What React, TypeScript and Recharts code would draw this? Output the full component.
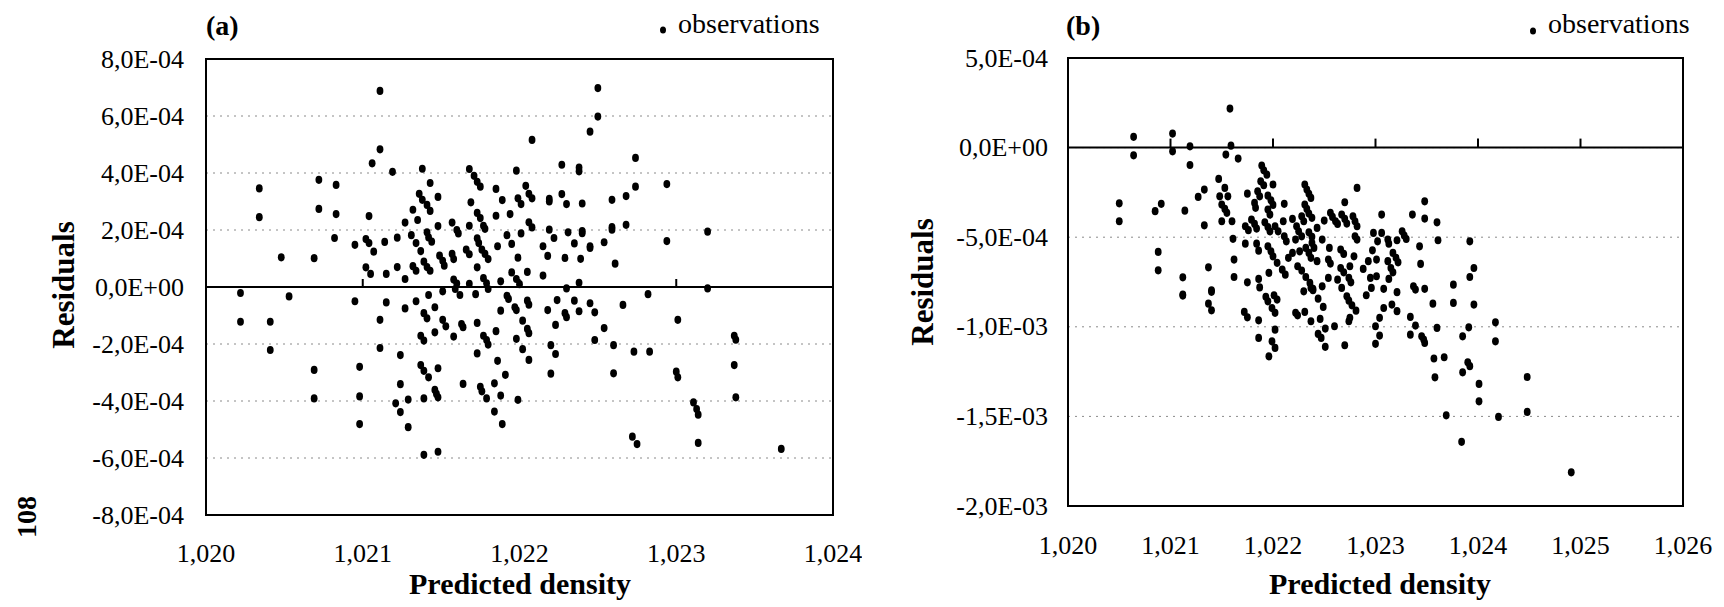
import { useMemo } from 'react';
import {
  CartesianGrid,
  ReferenceArea,
  ReferenceLine,
  Scatter,
  ScatterChart,
  XAxis,
  YAxis,
} from 'recharts';

const SERIF = "'Liberation Serif', 'Times New Roman', serif";
const CHART_W = 862;
const CHART_H = 607;
const X_AXIS_H = 50;

// panel (a): [predicted density, residual x 1E-4]
const obsA: [number, number][] = [
  [1.02111, 6.88], [1.02034, 3.46], [1.02034, 2.45], [1.02048, 1.04], [1.02069, 1.01], [1.02072, 3.76],
  [1.02072, 2.74], [1.02083, 3.58], [1.02083, 2.56], [1.02082, 1.72], [1.02095, 1.48], [1.02104, 2.49],
  [1.02106, 4.34], [1.02111, 4.83], [1.02119, 4.04], [1.02102, 1.68], [1.02104, 1.54], [1.02107, 1.24],
  [1.02102, 0.69], [1.02105, 0.46], [1.02115, 0.46], [1.02114, 1.58], [1.02122, 1.73], [1.02122, 0.7],
  [1.02127, 2.26], [1.02127, 0.28], [1.02131, 1.82], [1.02132, 2.71], [1.02135, 2.35], [1.02134, 1.54],
  [1.02137, 1.26], [1.02132, 0.73], [1.02134, 0.57], [1.02138, 4.15], [1.02136, 3.27], [1.02138, 3.06],
  [1.02141, 2.88], [1.02143, 2.67], [1.02143, 3.65], [1.02148, 3.16], [1.02141, 1.92], [1.02142, 1.74],
  [1.02144, 1.59], [1.02148, 2.14], [1.02139, 0.89], [1.02141, 0.7], [1.02143, 0.57], [1.02149, 1.1],
  [1.02151, 0.92], [1.02152, 0.75], [1.02157, 2.26], [1.0216, 2.0], [1.02161, 1.88], [1.02157, 1.16],
  [1.02158, 0.98], [1.02158, 0.26], [1.0216, 0.12], [1.02168, 4.14], [1.02171, 3.9], [1.02173, 3.69],
  [1.02175, 3.52], [1.02169, 2.97], [1.02173, 2.6], [1.02175, 2.42], [1.02168, 2.15], [1.02166, 1.31],
  [1.02168, 1.15], [1.02173, 1.71], [1.02174, 1.54], [1.02177, 2.15], [1.02178, 2.04], [1.02176, 1.31],
  [1.02178, 1.16], [1.0218, 0.98], [1.02173, 0.69], [1.02168, 0.11], [1.02177, 0.31], [1.02179, 0.13],
  [1.02185, 3.44], [1.02189, 3.05], [1.02185, 2.5], [1.02194, 2.56], [1.02192, 1.82], [1.02186, 1.43],
  [1.02195, 1.51], [1.02199, 1.03], [1.02195, 0.51], [1.02188, 0.2], [1.02198, 4.08], [1.02199, 3.11],
  [1.02201, 2.91], [1.02201, 1.88], [1.02198, 0.28], [1.022, 0.1],
  [1.0225, 6.98], [1.0225, 5.98], [1.02245, 5.45], [1.02208, 5.16], [1.02274, 4.53], [1.02227, 4.29],
  [1.02238, 4.19], [1.02238, 4.06], [1.02274, 3.52], [1.02294, 3.61], [1.02204, 3.55], [1.02206, 3.27],
  [1.02208, 3.11], [1.02219, 3.09], [1.02219, 3.0], [1.02227, 3.26], [1.0223, 2.91], [1.0224, 2.93],
  [1.02259, 3.06], [1.02268, 3.19], [1.02206, 2.27], [1.02208, 2.09], [1.02219, 2.01], [1.02222, 1.72],
  [1.02231, 1.92], [1.0224, 1.96], [1.0224, 1.89], [1.02235, 1.53], [1.02245, 1.43], [1.02245, 1.37],
  [1.02215, 1.43], [1.02218, 1.09], [1.02229, 1.02], [1.02239, 0.99], [1.02254, 1.57], [1.02259, 2.1],
  [1.02259, 2.01], [1.02268, 2.18], [1.02294, 1.61], [1.0232, 1.94], [1.02205, 0.53], [1.02215, 0.4],
  [1.02261, 0.82], [1.02238, 0.15], [1.0223, -0.05], [1.0232, -0.05], [1.02282, -0.25],
  [1.02022, -0.21], [1.02053, -0.33], [1.02022, -1.22], [1.02041, -1.22], [1.02041, -2.21], [1.02069, -2.91],
  [1.02069, -3.91], [1.02095, -0.5], [1.02098, -2.8], [1.02098, -3.84], [1.02098, -4.81], [1.02115, -0.54],
  [1.02111, -1.15], [1.02111, -2.14], [1.02124, -2.39], [1.02124, -3.41], [1.02121, -4.08], [1.02124, -4.39],
  [1.02129, -4.92], [1.02129, -3.95], [1.02127, -0.75], [1.02134, -0.5], [1.02139, -0.92], [1.02141, -1.1],
  [1.02146, -0.71], [1.02137, -1.71], [1.02139, -1.88], [1.02146, -1.59], [1.02151, -1.15], [1.02153, -1.38],
  [1.02158, -1.74], [1.02163, -1.3], [1.02164, -1.41], [1.02173, -1.26], [1.02177, -1.71], [1.02179, -1.86],
  [1.0218, -2.02], [1.02185, -1.55], [1.02173, -2.33], [1.02137, -2.74], [1.02139, -2.94], [1.02142, -3.17],
  [1.02148, -2.85], [1.02146, -3.61], [1.02147, -3.75], [1.02148, -3.87], [1.02139, -3.91], [1.02164, -3.4],
  [1.02175, -3.5], [1.02176, -3.66], [1.02179, -3.91], [1.02184, -3.38], [1.02186, -2.59], [1.02191, -3.08],
  [1.02188, -3.81], [1.02184, -4.37], [1.02189, -4.81], [1.02199, -3.96], [1.02139, -5.89], [1.02148, -5.78],
  [1.02188, -0.83], [1.02192, -0.31], [1.02193, -0.42], [1.02197, -0.71], [1.02198, -0.81], [1.02198, -1.82],
  [1.02202, -1.18], [1.02202, -2.18], [1.02162, -0.28], [1.02172, -0.25], [1.02142, -0.28], [1.02151, -0.15],
  [1.0218, -0.07], [1.02159, -0.07],
  [1.02205, -0.48], [1.02206, -0.62], [1.02218, -0.81], [1.02224, -0.46], [1.02235, -0.48], [1.02229, -0.92],
  [1.0223, -1.06], [1.02238, -0.85], [1.02245, -0.57], [1.02248, -0.89], [1.02266, -0.63], [1.02223, -1.33],
  [1.02205, -1.47], [1.02206, -1.62], [1.02254, -1.44], [1.02301, -1.15], [1.02248, -1.86], [1.0222, -2.04],
  [1.0226, -2.04], [1.02223, -2.35], [1.02206, -2.56], [1.02273, -2.27], [1.02283, -2.27], [1.02337, -1.71],
  [1.02338, -1.85], [1.0222, -3.04], [1.0226, -3.03], [1.023, -2.97], [1.02301, -3.17], [1.02337, -2.74],
  [1.02311, -4.05], [1.02313, -4.28], [1.02314, -4.48], [1.02338, -3.87], [1.02272, -5.25], [1.02275, -5.51],
  [1.02314, -5.47], [1.02367, -5.68],
];

// panel (b): [predicted density, residual x 1E-4]
const obsB: [number, number][] = [
  [1.02158, 2.18], [1.02064, 0.6], [1.02064, -0.43], [1.02102, 0.78], [1.02102, -0.21], [1.02119, 0.07],
  [1.02119, -0.97], [1.02159, 0.11], [1.02154, -0.39], [1.02166, -0.61], [1.0205, -3.11], [1.0205, -4.11],
  [1.02085, -3.55], [1.02091, -3.14], [1.02114, -3.52], [1.02127, -2.75], [1.02133, -2.34], [1.02133, -4.34],
  [1.02147, -1.75], [1.02153, -2.25], [1.02148, -2.72], [1.02156, -2.72], [1.0215, -3.18], [1.02153, -3.42],
  [1.02155, -3.64], [1.0215, -4.11], [1.0216, -4.11], [1.02161, -5.09], [1.02162, -6.25], [1.02162, -7.22],
  [1.02088, -5.82], [1.02088, -6.85], [1.02137, -6.68], [1.02112, -7.24], [1.02112, -8.2], [1.0214, -7.96],
  [1.02189, -1.0], [1.02191, -1.27], [1.02194, -1.51], [1.02188, -1.88], [1.02191, -2.1], [1.022, -2.06],
  [1.02175, -2.57], [1.02185, -2.44], [1.02187, -2.72], [1.02195, -2.68], [1.02198, -2.94], [1.022, -3.2],
  [1.02211, -3.14], [1.02182, -3.09], [1.02183, -3.36], [1.02195, -3.46], [1.02197, -3.74], [1.02173, -4.39],
  [1.02176, -4.61], [1.02179, -4.02], [1.02182, -4.26], [1.02184, -4.52], [1.02192, -4.17], [1.02195, -4.43],
  [1.02197, -4.67], [1.02202, -4.39], [1.02205, -4.67], [1.0221, -4.11], [1.02219, -3.98], [1.02228, -3.83],
  [1.0223, -4.11], [1.02231, -2.06], [1.02233, -2.34], [1.02235, -2.58], [1.02237, -2.81], [1.02231, -3.18],
  [1.02233, -3.42], [1.02235, -3.68], [1.02238, -3.92], [1.02223, -4.39], [1.02225, -4.67], [1.02228, -4.95],
  [1.02235, -4.73], [1.02238, -4.98], [1.02243, -4.48], [1.0225, -4.07], [1.02256, -3.64], [1.02258, -3.87],
  [1.02261, -4.11], [1.0227, -3.05], [1.02267, -3.74], [1.0227, -3.98], [1.02272, -4.24], [1.02282, -2.25],
  [1.02278, -3.83], [1.0228, -4.11], [1.02282, -4.39], [1.02306, -3.74], [1.0228, -4.95], [1.02282, -5.13],
  [1.02263, -4.26], [1.02298, -4.76], [1.02302, -5.23], [1.02173, -5.36], [1.02184, -5.36], [1.02186, -5.75],
  [1.02195, -5.51], [1.02198, -5.79], [1.022, -6.07], [1.02204, -6.43], [1.02211, -4.95], [1.02213, -5.23],
  [1.02222, -5.13], [1.02238, -5.32], [1.0224, -5.6], [1.02232, -5.6], [1.02235, -5.88], [1.02237, -6.15],
  [1.02248, -5.13], [1.02255, -5.6], [1.02266, -5.69], [1.02269, -5.93], [1.02279, -6.07], [1.02297, -5.73],
  [1.02215, -6.15], [1.02219, -5.88], [1.02226, -5.79], [1.02224, -6.62], [1.02228, -6.86], [1.02232, -7.22],
  [1.02236, -7.55], [1.02239, -7.88], [1.02209, -6.81], [1.02212, -7.09], [1.02186, -7.33], [1.02175, -7.52],
  [1.02196, -6.99], [1.02243, -6.34], [1.02248, -7.74], [1.02254, -6.25], [1.02256, -6.47], [1.02266, -6.72],
  [1.02269, -6.96], [1.02275, -6.62], [1.02263, -7.37], [1.02274, -7.27], [1.02276, -7.52], [1.02254, -7.27],
  [1.02267, -7.83], [1.02288, -6.77], [1.02293, -6.34], [1.02295, -7.27], [1.02301, -6.25], [1.02301, -7.18],
  [1.02296, -7.83],
  [1.02348, -3.0], [1.02336, -3.74], [1.02348, -3.96], [1.0236, -4.17], [1.02306, -4.76], [1.02326, -4.67],
  [1.02328, -4.91], [1.0233, -5.1], [1.02312, -5.13], [1.02313, -5.36], [1.02321, -5.17], [1.02343, -5.51],
  [1.02361, -5.17], [1.02392, -5.23], [1.02317, -5.88], [1.0232, -6.15], [1.02322, -6.4], [1.02312, -6.34],
  [1.02315, -6.72], [1.02317, -6.96], [1.02344, -6.49], [1.02313, -7.33], [1.02396, -6.72], [1.02392, -7.22],
  [1.02376, -7.65], [1.02308, -7.88], [1.02337, -7.74], [1.02339, -7.92], [1.02348, -7.88], [1.02321, -8.07],
  [1.02112, -8.26], [1.0214, -8.05], [1.02137, -8.71], [1.0214, -9.08], [1.02172, -9.17], [1.02175, -9.47],
  [1.02186, -9.64], [1.02187, -7.8], [1.02193, -8.33], [1.02195, -8.58], [1.02201, -8.24], [1.02204, -8.48],
  [1.02199, -8.95], [1.02202, -9.22], [1.02202, -10.16], [1.02186, -10.62], [1.02199, -10.81], [1.02202, -11.18],
  [1.02196, -11.65], [1.02222, -9.22], [1.02224, -9.36], [1.02231, -9.17], [1.0223, -8.02], [1.02237, -7.83],
  [1.02239, -7.96], [1.02244, -8.43], [1.02249, -8.89], [1.02237, -9.69], [1.02246, -9.56], [1.02244, -10.4],
  [1.02247, -10.62], [1.02251, -11.12], [1.02251, -10.1], [1.0226, -9.97], [1.02272, -8.3], [1.02274, -8.54],
  [1.02277, -8.8], [1.02281, -9.1], [1.02275, -9.5], [1.02274, -9.69], [1.0227, -11.03], [1.02291, -8.24],
  [1.02308, -8.95], [1.02304, -9.5], [1.023, -9.97], [1.02304, -10.49], [1.023, -10.95],
  [1.02316, -8.76], [1.02321, -9.13], [1.02334, -9.45], [1.02339, -9.93], [1.02334, -10.44], [1.02345, -10.53],
  [1.02347, -10.71], [1.02348, -10.9], [1.02356, -8.71], [1.0236, -10.06], [1.02376, -8.67], [1.02396, -8.76],
  [1.02391, -10.03], [1.02385, -10.53], [1.02417, -9.75], [1.02417, -10.81], [1.02357, -11.77], [1.02367, -11.7],
  [1.02358, -12.82], [1.0239, -11.98], [1.02392, -12.2], [1.02385, -12.54], [1.02401, -13.19], [1.02401, -14.16],
  [1.02448, -12.8], [1.02448, -14.75], [1.02369, -14.94], [1.0242, -15.03], [1.02384, -16.42], [1.02491, -18.12],
];

const xTicksA = [1.02, 1.021, 1.022, 1.023, 1.024];
const yTicksA = [-8e-4, -6e-4, -4e-4, -2e-4, 0, 2e-4, 4e-4, 6e-4, 8e-4];
const xTicksB = [1.02, 1.021, 1.022, 1.023, 1.024, 1.025, 1.026];
const yTicksB = [-2e-3, -1.5e-3, -1e-3, -5e-4, 0, 5e-4];

const fmtDensity = (v: number) => v.toFixed(3).replace('.', ',');

// Excel style "8,0E-04"
const fmtSci = (v: number) => {
  if (Math.abs(v) < 1e-12) return '0,0E+00';
  const exp = Math.floor(Math.log10(Math.abs(v)) + 1e-9);
  const mant = v / 10 ** exp;
  const sign = exp < 0 ? '-' : '+';
  return `${mant.toFixed(1).replace('.', ',')}E${sign}${String(Math.abs(exp)).padStart(2, '0')}`;
};

const Dot = (props: any) => (
  <ellipse cx={props.cx} cy={props.cy} rx={3.4} ry={4.1} fill="#000" />
);

interface PanelProps {
  obs: [number, number][];
  xTicks: number[];
  yTicks: number[];
  margin: { top: number; right: number; bottom: number; left: number };
  yLabelGap: number;
  xLabelY: number;
  zeroTickPx: number;
}

const ResidualPanel = ({ obs, xTicks, yTicks, margin, yLabelGap, xLabelY, zeroTickPx }: PanelProps) => {
  const rows = useMemo(() => obs.map(([density, r]) => ({ density, residual: r * 1e-4 })), [obs]);
  const xMin = xTicks[0];
  const xMax = xTicks[xTicks.length - 1];
  const yMin = yTicks[0];
  const yMax = yTicks[yTicks.length - 1];
  const plotH = CHART_H - margin.top - margin.bottom - X_AXIS_H;
  const tickLen = (zeroTickPx * (yMax - yMin)) / plotH;
  const plotLeft = margin.left + 206;

  return (
    <ScatterChart width={CHART_W} height={CHART_H} margin={margin}>
      <CartesianGrid vertical={false} stroke="#8a8a8a" strokeDasharray="2 5" />
      <XAxis
        dataKey="density"
        type="number"
        domain={[xMin, xMax]}
        ticks={xTicks}
        height={X_AXIS_H}
        axisLine={false}
        tickLine={false}
        allowDataOverflow
        tick={({ x, payload }: any) => (
          <text x={x} y={xLabelY} textAnchor="middle" dominantBaseline="central" fontFamily={SERIF} fontSize={26} fill="#000">
            {fmtDensity(payload.value)}
          </text>
        )}
      />
      <YAxis
        dataKey="residual"
        type="number"
        domain={[yMin, yMax]}
        ticks={yTicks}
        width={206}
        axisLine={false}
        tickLine={false}
        allowDataOverflow
        tick={({ y, payload }: any) => (
          <text x={plotLeft - yLabelGap} y={y} textAnchor="end" dominantBaseline="central" fontFamily={SERIF} fontSize={26} fill="#000">
            {fmtSci(payload.value)}
          </text>
        )}
      />
      <ReferenceLine y={0} stroke="#000" strokeWidth={2} />
      {xTicks.slice(1, -1).map((t) => (
        <ReferenceLine
          key={t}
          segment={[{ x: t, y: 0 }, { x: t, y: tickLen }]}
          stroke="#000"
          strokeWidth={2}
        />
      ))}
      <Scatter data={rows} shape={Dot} isAnimationActive={false} />
      <ReferenceArea
        x1={xMin}
        x2={xMax}
        y1={yMin}
        y2={yMax}
        fill="none"
        stroke="#000"
        strokeWidth={2}
        ifOverflow="visible"
      />
    </ScatterChart>
  );
};

const textBase = { fontFamily: SERIF, fill: '#000' } as const;

export default function App() {
  return (
    <div style={{ position: 'absolute', left: 0, top: 0, width: 1724, height: 607, background: '#fff', fontFamily: SERIF }}>
      <div style={{ position: 'absolute', left: 0, top: 0 }}>
        <ResidualPanel
          obs={obsA}
          xTicks={xTicksA}
          yTicks={yTicksA}
          margin={{ top: 59, right: 29, bottom: 42, left: 0 }}
          yLabelGap={22}
          xLabelY={553}
          zeroTickPx={8}
        />
      </div>
      <div style={{ position: 'absolute', left: 862, top: 0 }}>
        <ResidualPanel
          obs={obsB}
          xTicks={xTicksB}
          yTicks={yTicksB}
          margin={{ top: 58, right: 41, bottom: 51, left: 0 }}
          yLabelGap={20}
          xLabelY={545}
          zeroTickPx={9}
        />
      </div>
      <svg width={1724} height={607} style={{ position: 'absolute', left: 0, top: 0, pointerEvents: 'none' }}>
        <text x={206} y={35} fontSize={28} fontWeight="bold" {...textBase}>(a)</text>
        <text x={1066} y={35} fontSize={28} fontWeight="bold" {...textBase}>(b)</text>

        <ellipse cx={663} cy={30} rx={3} ry={3.5} fill="#000" />
        <text x={678} y={33} fontSize={28} {...textBase}>observations</text>
        <ellipse cx={1533} cy={31} rx={3} ry={3.5} fill="#000" />
        <text x={1548} y={33} fontSize={28} {...textBase}>observations</text>

        <text x={520} y={594} fontSize={30} fontWeight="bold" textAnchor="middle" {...textBase}>Predicted density</text>
        <text x={1380} y={594} fontSize={30} fontWeight="bold" textAnchor="middle" {...textBase}>Predicted density</text>

        <text transform="translate(63,285) rotate(-90)" fontSize={31} fontWeight="bold" textAnchor="middle" dominantBaseline="central" {...textBase}>Residuals</text>
        <text transform="translate(922,282) rotate(-90)" fontSize={31} fontWeight="bold" textAnchor="middle" dominantBaseline="central" {...textBase}>Residuals</text>

        <text transform="translate(26,517) rotate(-90)" fontSize={28} fontWeight="bold" textAnchor="middle" dominantBaseline="central" {...textBase}>108</text>
      </svg>
    </div>
  );
}
